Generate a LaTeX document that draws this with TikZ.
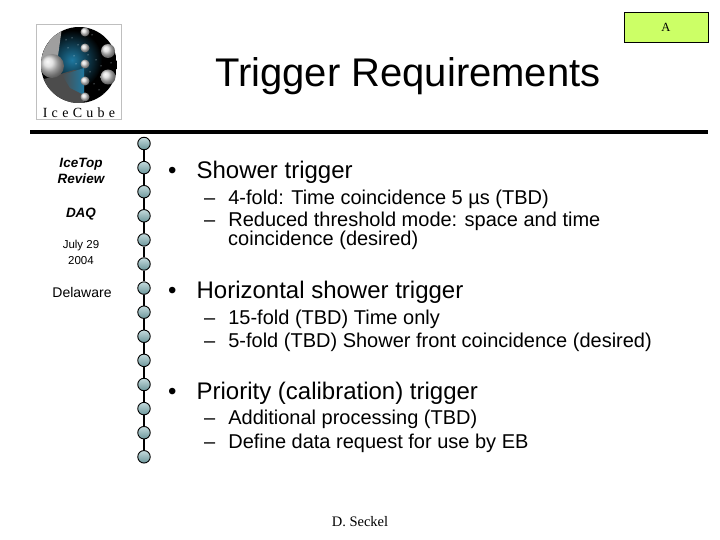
\documentclass[tikz,border=0pt]{standalone}
\usepackage{fontspec}
\setmainfont{Liberation Sans}
\newfontfamily\serifface{Liberation Serif}
\usetikzlibrary{positioning}
\definecolor{beadblue}{RGB}{125,175,180}
\definecolor{tagyellow}{RGB}{204,255,102}
\definecolor{logoblue}{RGB}{30,120,160}
\tikzset{
x=1pt, y=-1pt,
node distance=24.1pt, % spacing of the beads on the string
bead/.style={circle, draw=black, line width=0.9pt, minimum size=12.5pt, inner sep=0pt, top color=beadblue!45!white, bottom color=beadblue!85!black},
title/.style={anchor=base, font=\fontsize{40}{40}\selectfont, inner sep=0pt},
head/.style={anchor=base west, font=\fontsize{24}{24}\selectfont, inner sep=0pt},
sub/.style={anchor=base west, font=\fontsize{20}{20}\selectfont, inner sep=0pt},
side/.style={anchor=base, font=\fontsize{14}{14}\selectfont, inner sep=0pt},
sideb/.style={side, font=\fontsize{13.5}{13.5}\selectfont\bfseries\itshape},
orb/.style={circle, inner sep=0pt, ball color=white!85!black},
}
\begin{document}
\begin{tikzpicture}
\useasboundingbox (0,0) rectangle (720,540);

% tag in the corner
\node[draw=black, thick, fill=tagyellow, minimum width=84pt, minimum height=30pt, inner sep=0pt,
  font=\serifface\fontsize{12.5}{12.5}\selectfont] (tag) at (666,27.5) {A};

% logo
\node[draw=gray!50, fill=white, minimum width=85pt, minimum height=95pt, inner sep=0pt] (logo) at (79,72) {};
\begin{scope}
\clip (79,65) circle[radius=38];
\fill[black] (41,27) rectangle (117,103);
\shade[inner color=logoblue, outer color=black] (72,60) circle[radius=30];
\fill[gray!60!black] (41,80) -- (74,70) -- (84,72) -- (84,103) -- (41,103) -- cycle;
\fill[gray!75] (41,27) -- (62,27) -- (58,56) -- (41,62) -- cycle;
\shade[left color=gray!60!black, right color=logoblue] (62,75) -- (84,68) -- (84,95) -- (70,88) -- cycle;
\foreach \dotx/\doty in {72/38,78/45,68/48,92/35,96/60,99/90,104/94,90/72,94/84,74/56,66/40,88/55,101/66,111/63,76/64}
  \fill[white!80!logoblue] (\dotx,\doty) circle[radius=0.5];
\node[orb, minimum size=24pt] (orbleft) at (52,66) {};
\end{scope}
\node[orb, minimum size=14pt] (orbtop) at (108,51) {};
\node[orb, minimum size=15pt] (orbright) at (108,77) {};
\foreach \i/\ypos in {1/32,2/48,3/64,4/81,5/97}
  \node[orb, minimum size=9pt] (orb\i) at (85,\ypos) {};
\node[font=\serifface\fontsize{14}{14}\selectfont, inner sep=0pt] (logotext) at (79,113) {I\hspace{4.3pt}c\hspace{4.3pt}e\hspace{4.3pt}C\hspace{4.3pt}u\hspace{4.3pt}b\hspace{4.3pt}e};

% title and rule
\node[title] (heading) at (408,87) {Trigger Requirements};
\fill[black] (30,130) rectangle (708,134);

% string of beads
\node[bead] (b1) at (144,143.5) {};
\foreach \i [remember=\i as \j (initially 1)] in {2,...,14}
  \node[bead, below of=b\j] (b\i) {};
\foreach \i [remember=\i as \j (initially 1)] in {2,...,14}
  \draw[line width=1.3pt] (b\j) -- (b\i);

% left column
\node[sideb] (site) at (81,167.5) {IceTop};
\node[sideb] (review) at (81,183.5) {Review};
\node[sideb] (daq) at (81,218) {DAQ};
\node[side, font=\fontsize{11.5}{11.5}\selectfont] (date) at (81,248) {July 29};
\node[side, font=\fontsize{11.5}{11.5}\selectfont] (year) at (81,264) {2004};
\node[side] (place) at (82,297) {Delaware};

% main text
\node[head] (h1) at (168,179) {•\hspace{20pt}Shower trigger};
\node[sub] (s1) at (204,205) {–\hspace{13pt}4-fold: Time coincidence 5 µs (TBD)};
\node[sub] (s2) at (204,226) {–\hspace{13pt}Reduced threshold mode: space and time};
\node[sub] (s3) at (228,245) {coincidence (desired)};
\node[head] (h2) at (168,298) {•\hspace{20pt}Horizontal shower trigger};
\node[sub] (s4) at (204,324) {–\hspace{13pt}15-fold (TBD) Time only};
\node[sub] (s5) at (204,347) {–\hspace{13pt}5-fold (TBD) Shower front coincidence (desired)};
\node[head] (h3) at (168,399) {•\hspace{20pt}Priority (calibration) trigger};
\node[sub] (s6) at (204,424) {–\hspace{13pt}Additional processing (TBD)};
\node[sub] (s7) at (204,448) {–\hspace{13pt}Define data request for use by EB};

% footer
\node[font=\serifface\fontsize{14.5}{14.5}\selectfont, inner sep=0pt] (foot) at (360,522) {D. Seckel};
\end{tikzpicture}
\end{document}
